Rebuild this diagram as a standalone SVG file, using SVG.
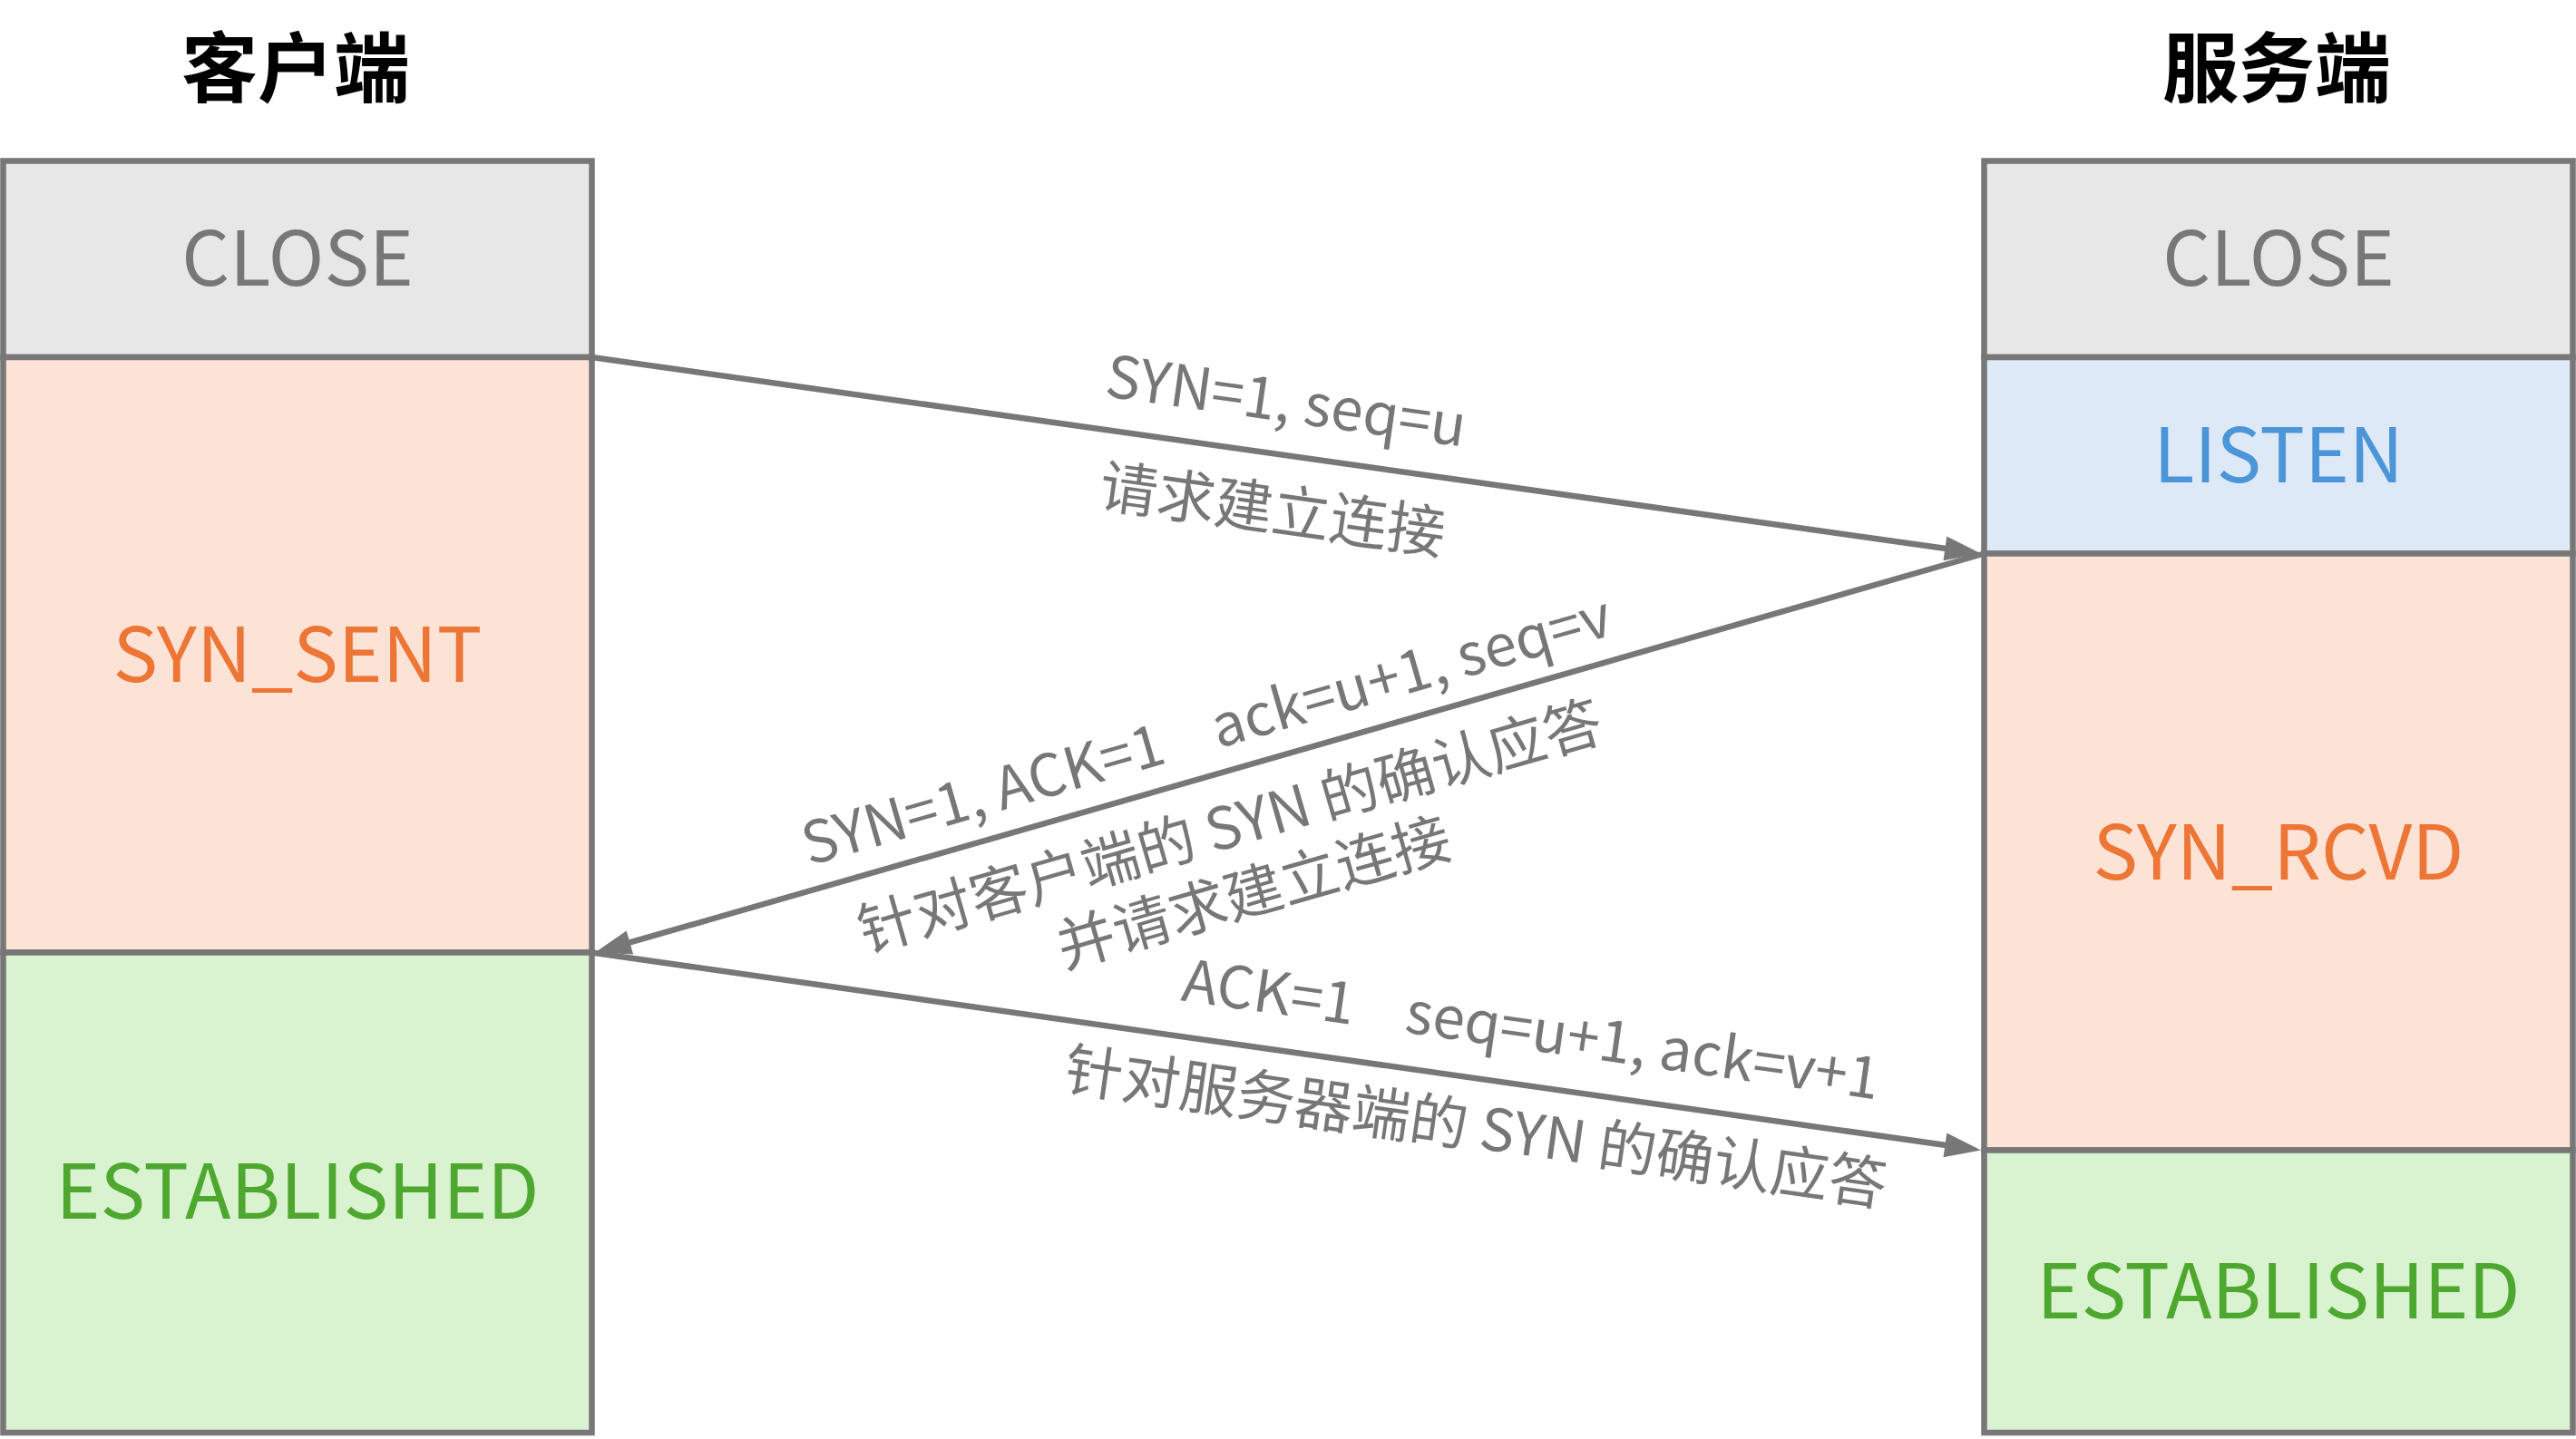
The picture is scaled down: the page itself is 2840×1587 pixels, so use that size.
<svg xmlns="http://www.w3.org/2000/svg" width="2840" height="1587" viewBox="0 0 2840 1587">
<style>
  .box { stroke: #777777; stroke-width: 6.5; }
  .close { fill: #E7E7E7; }
  .peach { fill: #FCE3D6; }
  .blue { fill: #DDE9F6; }
  .green { fill: #D9F2D0; }
  .st { font-family: "Noto Sans CJK SC", "Noto Sans", sans-serif; font-size: 83px; text-anchor: middle; }
  .t-gray { fill: #777777; }
  .t-orange { fill: #ED7535; }
  .t-blue { fill: #4D95D9; }
  .t-green { fill: #4EA72E; }
  .title { font-family: "Noto Sans CJK SC", sans-serif; font-size: 84px; font-weight: 700; fill: #000; text-anchor: middle; }
  .conn { stroke: #777777; stroke-width: 6.5; fill: none; marker-end: url(#arrow); }
  .lbl { font-family: "Noto Sans CJK SC", "Noto Sans", sans-serif; font-size: 64px; fill: #777777; text-anchor: middle; white-space: pre; }
</style>
<defs>
  <marker id="arrow" markerUnits="userSpaceOnUse" markerWidth="40" markerHeight="27" refX="10" refY="13.5" orient="auto" overflow="visible">
    <path d="M0,0 L40,13.5 L0,27 Z" fill="#777777"/>
  </marker>
</defs>
<rect width="2840" height="1587" fill="#ffffff"/>

<g id="title-client"><text class="title" x="326" y="106">客户端</text></g>
<g id="title-server"><text class="title" x="2510" y="106">服务端</text></g>

<g id="client-close">
  <rect class="box close" x="3.5" y="177.5" width="649" height="216.5"/>
  <text class="st t-gray" x="328" y="315">CLOSE</text>
</g>
<g id="client-syn-sent">
  <rect class="box peach" x="3.5" y="394" width="649" height="656.5"/>
  <text class="st t-orange" x="328" y="752">SYN_SENT</text>
</g>
<g id="client-established">
  <rect class="box green" x="3.5" y="1050.5" width="649" height="529.5"/>
  <text class="st t-green" x="328" y="1344">ESTABLISHED</text>
</g>

<g id="server-close">
  <rect class="box close" x="2187.5" y="177.5" width="649" height="216.5"/>
  <text class="st t-gray" x="2512" y="315">CLOSE</text>
</g>
<g id="server-listen">
  <rect class="box blue" x="2187.5" y="394" width="649" height="216.5"/>
  <text class="st t-blue" x="2512" y="532">LISTEN</text>
</g>
<g id="server-syn-rcvd">
  <rect class="box peach" x="2187.5" y="610.5" width="649" height="658"/>
  <text class="st t-orange" x="2512" y="970">SYN_RCVD</text>
</g>
<g id="server-established">
  <rect class="box green" x="2187.5" y="1268.5" width="649" height="311.5"/>
  <text class="st t-green" x="2512" y="1454">ESTABLISHED</text>
</g>

<g id="connectors">
  <line class="conn" x1="652.5" y1="394" x2="2154.3" y2="606.3"/>
  <line class="conn" x1="2187.5" y1="610.5" x2="684.8" y2="1042.2"/>
  <line class="conn" x1="652.5" y1="1050.5" x2="2154.3" y2="1264.3"/>

  <text class="lbl" xml:space="preserve" transform="translate(1418,442) rotate(8.05)" y="23">SYN=1, seq=u</text>
  <text class="lbl" xml:space="preserve" transform="translate(1403,562) rotate(8.05)" y="23">请求建立连接</text>

  <text class="lbl" xml:space="preserve" transform="translate(1330,805) rotate(-16.03)" y="23">SYN=1, ACK=1    ack=u+1, seq=v</text>
  <text class="lbl" xml:space="preserve" transform="translate(1356,911) rotate(-16.03)" y="23">针对客户端的 SYN 的确认应答</text>
  <text class="lbl" xml:space="preserve" transform="translate(1382,984) rotate(-16.03)" y="23">并请求建立连接</text>

  <text class="lbl" xml:space="preserve" transform="translate(1688,1135) rotate(8.1)" y="23">ACK=1    seq=u+1, ack=v+1</text>
  <text class="lbl" xml:space="preserve" transform="translate(1627,1243) rotate(8.1)" y="23">针对服务器端的 SYN 的确认应答</text>
</g>
</svg>
